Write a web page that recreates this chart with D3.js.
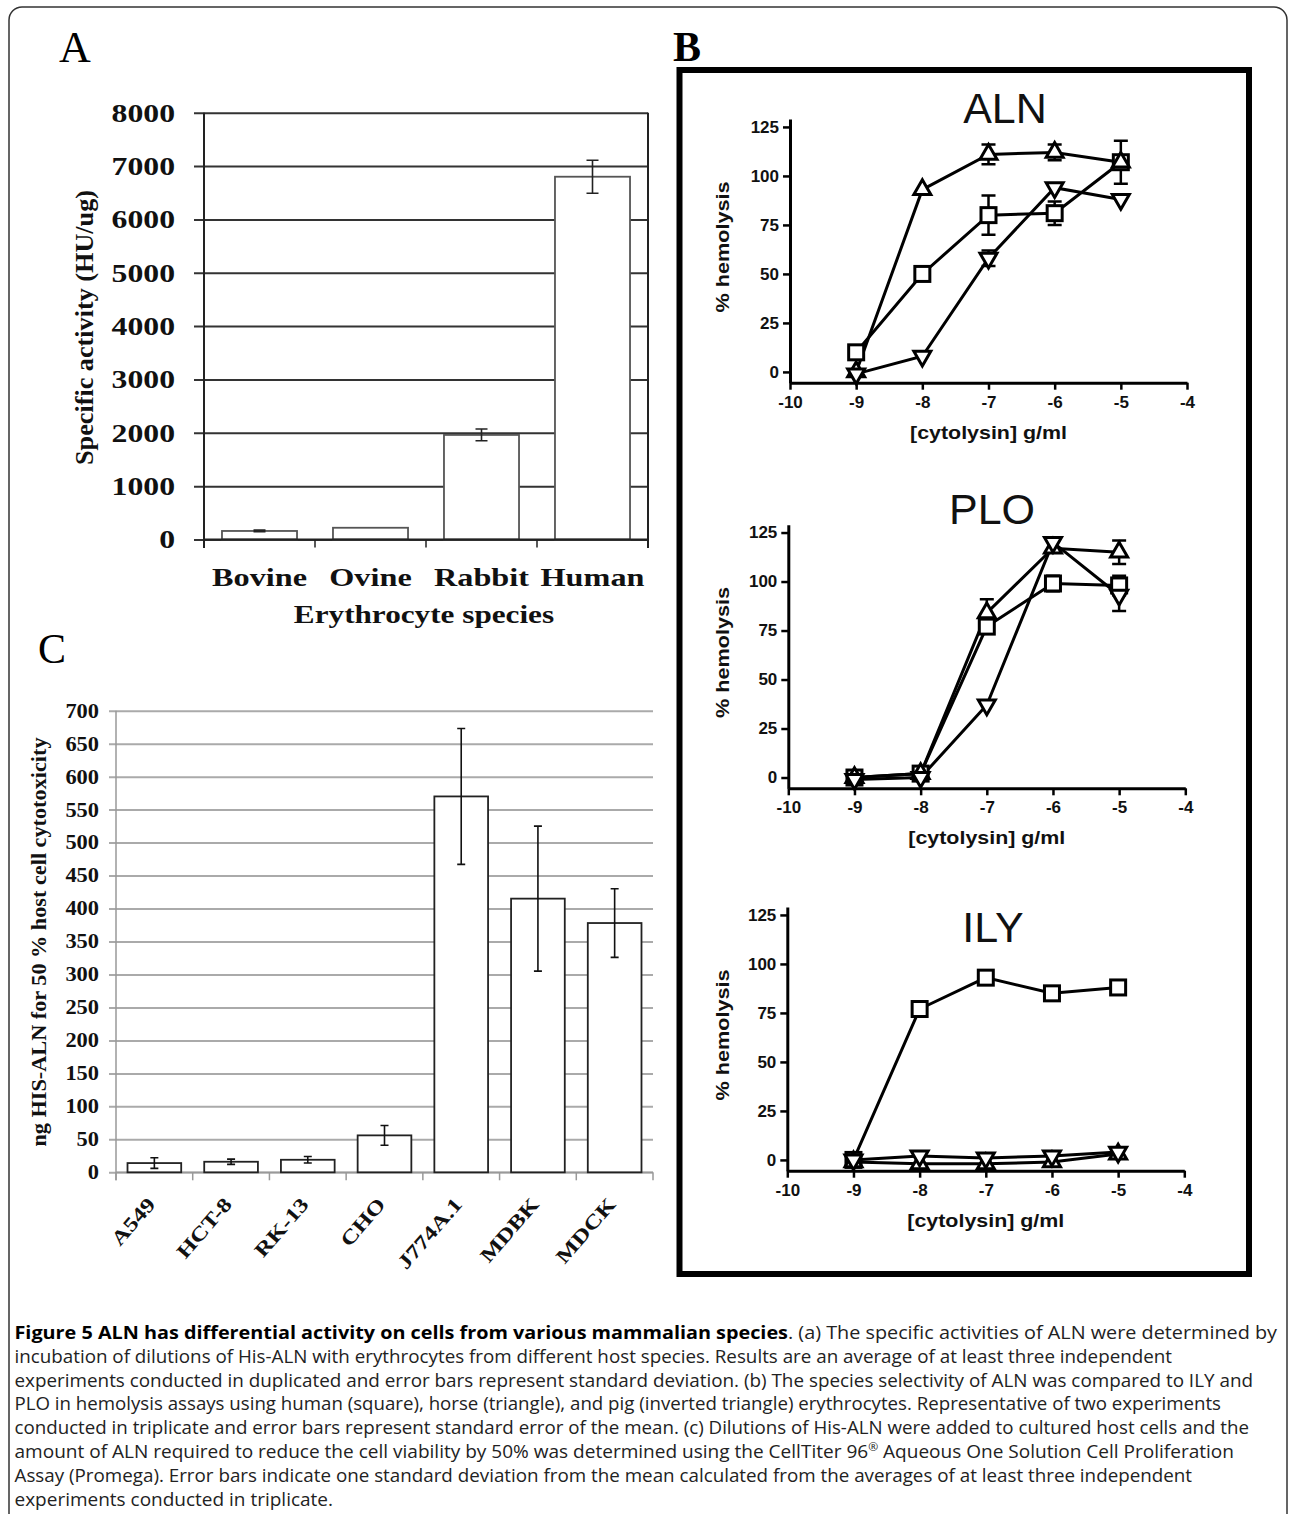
<!DOCTYPE html>
<html>
<head>
<meta charset="utf-8">
<script src="https://cdn.jsdelivr.net/npm/d3@7"></script>
<style>
  body { margin: 0; background: #fff; }
  svg { display: block; }
</style>
</head>
<body>
<div id="chart"></div>
<script>
//Datos - panel A
const speciesA = ['Bovine', 'Ovine', 'Rabbit', 'Human'];
const activityA = [160, 220, 1960, 6800];
const activityErrA = [15, 0, 110, 310];
const ticksA = [0, 1000, 2000, 3000, 4000, 5000, 6000, 7000, 8000];

//Datos - panel B (log g/ml vs % hemolysis)
const concB = [-9, -8, -7, -6, -5];
const ticksBx = [-10, -9, -8, -7, -6, -5, -4];
const ticksBy = [0, 25, 50, 75, 100, 125];

const alnHuman = [10, 50, 80, 81, 107];
const alnHumanErr = [0, 0, 10, 6, 11];
const alnHorse = [0, 93, 111, 112, 107];
const alnHorseErr = [0, 0, 5, 4, 0];
const alnPig = [-1, 8, 58, 94, 88];
const alnPigErr = [0, 0, 4, 0, 0];

const ploHuman = [0, 2, 77, 99, 98];
const ploHumanErr = [0, 0, 0, 4, 5];
const ploHorse = [0, 2, 84, 117, 115];
const ploHorseErr = [0, 0, 7, 0, 6];
const ploPig = [-1, 0, 37, 120, 93];
const ploPigErr = [0, 0, 0, 0, 8];

const ilyHuman = [0, 77, 93, 85, 88];
const ilyHorse = [-1, -2, -2, -1, 3];
const ilyPig = [0, 2, 1, 2, 4];

//Datos - panel C
const cellsC = ['A549', 'HCT-8', 'RK-13', 'CHO', 'J774A.1', 'MDBK', 'MDCK'];
const cytoC = [14, 16, 19, 56, 570, 415, 378];
const cytoErrC = [8, 4, 5, 15, 103, 110, 52];
const ticksC = [0, 50, 100, 150, 200, 250, 300, 350, 400, 450, 500, 550, 600, 650, 700];

const SERIF = '"Liberation Serif", "Times New Roman", serif';
const SANS = '"Liberation Sans", Arial, sans-serif';
const CAPTION = '"Open Sans", "Liberation Sans", sans-serif';

let svg = d3.select('#chart').append('svg')
    .attr('width', 1290)
    .attr('height', 1514);

svg.append('rect').attr('width', 1290).attr('height', 1514).attr('fill', '#fff');

//Marco exterior
svg.append('rect')
    .attr('x', 9).attr('y', 7)
    .attr('width', 1278).attr('height', 1600)
    .attr('rx', 13)
    .attr('fill', 'none').attr('stroke', '#333').attr('stroke-width', 1.5);

//estira el texto horizontalmente
function stretch(sel, k) {
    sel.each(function() {
        let w = this.getComputedTextLength();
        d3.select(this).attr('textLength', w * k).attr('lengthAdjust', 'spacingAndGlyphs');
    });
}

/////
// Panel A
/////
let gA = svg.append('g');
let xA = d3.scaleBand().domain(speciesA).range([204, 648]).paddingInner(0.324).paddingOuter(0.162);
let yA = d3.scaleLinear().domain([0, 8000]).range([539.5, 112.7]);

gA.append('text').attr('x', 59).attr('y', 62)
    .style('font-family', SERIF).style('font-size', '44px').text('A');

//rejilla + etiquetas
let yAxisA = gA.append('g')
    .attr('transform', 'translate(648,0)')
    .call(d3.axisLeft(yA).tickValues(ticksA).tickSize(454).tickPadding(19).tickFormat(d => String(d)));
yAxisA.select('.domain').remove();
yAxisA.selectAll('.tick line').attr('stroke', '#333').attr('stroke-width', 2);
yAxisA.selectAll('.tick text')
    .style('font-family', SERIF).style('font-size', '26px').style('font-weight', 'bold').attr('fill', '#111')
    .call(stretch, 1.22);

gA.append('line').attr('x1', 204).attr('x2', 204).attr('y1', 112.7).attr('y2', 548)
    .attr('stroke', '#222').attr('stroke-width', 2);
gA.append('line').attr('x1', 648).attr('x2', 648).attr('y1', 112.7).attr('y2', 548)
    .attr('stroke', '#222').attr('stroke-width', 2);

//marcas en los límites de cada categoría
let edgesA = speciesA.map(d => xA(d) - (xA.step() - xA.bandwidth()) / 2).concat([xA.range()[1]]);
gA.selectAll('.edge').data(edgesA).enter().append('line')
    .attr('x1', d => d).attr('x2', d => d).attr('y1', yA(0)).attr('y2', yA(0) + 8)
    .attr('stroke', '#222').attr('stroke-width', 1.5);

gA.selectAll('.bar').data(speciesA).enter().append('rect')
    .attr('x', d => xA(d))
    .attr('y', (d, i) => yA(activityA[i]))
    .attr('width', xA.bandwidth())
    .attr('height', (d, i) => yA(0) - yA(activityA[i]))
    .attr('fill', '#fff').attr('stroke', '#555').attr('stroke-width', 1.8);

gA.append('line').attr('x1', 204).attr('x2', 648).attr('y1', yA(0)).attr('y2', yA(0))
    .attr('stroke', '#222').attr('stroke-width', 2);

speciesA.forEach(function(d, i) {
    if (!activityErrA[i]) return;
    let cx = xA(d) + xA.bandwidth() / 2,
        t = yA(activityA[i] + activityErrA[i]),
        b = yA(activityA[i] - activityErrA[i]);
    gA.append('path')
        .attr('d', `M${cx},${t}V${b}M${cx - 6},${t}H${cx + 6}M${cx - 6},${b}H${cx + 6}`)
        .attr('stroke', '#222').attr('stroke-width', 1.6).attr('fill', 'none');
});

gA.selectAll('.xlab').data(speciesA).enter().append('text')
    .attr('x', d => xA(d) + xA.bandwidth() / 2)
    .attr('y', 586)
    .attr('text-anchor', 'middle')
    .style('font-family', SERIF).style('font-size', '26px').style('font-weight', 'bold').attr('fill', '#111')
    .text(d => d)
    .call(stretch, 1.24);

gA.append('text').attr('x', 424).attr('y', 623).attr('text-anchor', 'middle')
    .style('font-family', SERIF).style('font-size', '26px').style('font-weight', 'bold').attr('fill', '#111')
    .text('Erythrocyte species')
    .call(stretch, 1.2);

gA.append('text')
    .attr('transform', 'translate(93,327.5) rotate(-90)')
    .attr('text-anchor', 'middle')
    .style('font-family', SERIF).style('font-size', '26px').style('font-weight', 'bold').attr('fill', '#111')
    .attr('textLength', 275).attr('lengthAdjust', 'spacingAndGlyphs')
    .text('Specific activity (HU/ug)');

/////
// Panel B
/////
let gB = svg.append('g');
gB.append('text').attr('x', 673).attr('y', 61)
    .style('font-family', SERIF).style('font-size', '42px').style('font-weight', 'bold').text('B');
gB.append('rect').attr('x', 679.5).attr('y', 70).attr('width', 569.5).attr('height', 1204)
    .attr('fill', 'none').attr('stroke', '#000').attr('stroke-width', 6);

const panelsB = [
    { title: 'ALN', left: 790, bottom: 382.7, titleX: 1005, titleY: 123,
      series: [
        { shape: 'square', values: alnHuman, err: alnHumanErr },
        { shape: 'up', values: alnHorse, err: alnHorseErr },
        { shape: 'down', values: alnPig, err: alnPigErr }
      ] },
    { title: 'PLO', left: 788.3, bottom: 788.3, titleX: 992, titleY: 524,
      series: [
        { shape: 'square', values: ploHuman, err: ploHumanErr },
        { shape: 'up', values: ploHorse, err: ploHorseErr },
        { shape: 'down', values: ploPig, err: ploPigErr }
      ] },
    { title: 'ILY', left: 787.3, bottom: 1170.7, titleX: 993, titleY: 942,
      series: [
        { shape: 'square', values: ilyHuman, err: null },
        { shape: 'up', values: ilyHorse, err: null },
        { shape: 'down', values: ilyPig, err: null }
      ] }
];

panelsB.forEach(function(p) {
    let g = gB.append('g');
    let x = d3.scaleLinear().domain([-10, -4]).range([p.left, p.left + 397]);
    let y = d3.scaleLinear().domain([-5.5, 129]).range([p.bottom, p.bottom - 263.6]);

    g.append('text').attr('x', p.titleX).attr('y', p.titleY).attr('text-anchor', 'middle')
        .style('font-family', SANS).style('font-size', '43px').attr('fill', '#111').text(p.title);

    let ax = g.append('g').attr('transform', `translate(0,${p.bottom})`)
        .call(d3.axisBottom(x).tickValues(ticksBx).tickSize(7).tickSizeOuter(0).tickPadding(6).tickFormat(d => String(d)));
    let ay = g.append('g').attr('transform', `translate(${p.left},0)`)
        .call(d3.axisLeft(y).tickValues(ticksBy).tickSize(7).tickSizeOuter(0).tickPadding(4).tickFormat(d => String(d)));
    [ax, ay].forEach(function(a) {
        a.select('.domain').attr('stroke', '#000').attr('stroke-width', 3);
        a.selectAll('.tick line').attr('stroke', '#000').attr('stroke-width', 2.5);
        a.selectAll('.tick text').style('font-family', SANS).style('font-size', '17px')
            .style('font-weight', 'bold').attr('fill', '#111');
    });

    g.append('text').attr('x', x(-7)).attr('y', p.bottom + 56).attr('text-anchor', 'middle')
        .style('font-family', SANS).style('font-size', '18px').style('font-weight', 'bold').attr('fill', '#111')
        .attr('textLength', 157).attr('lengthAdjust', 'spacingAndGlyphs')
        .text('[cytolysin] g/ml');
    g.append('text').attr('transform', `translate(729,${y(0) - 125}) rotate(-90)`).attr('text-anchor', 'middle')
        .style('font-family', SANS).style('font-size', '18px').style('font-weight', 'bold').attr('fill', '#111')
        .attr('textLength', 131).attr('lengthAdjust', 'spacingAndGlyphs')
        .text('% hemolysis');

    let line = d3.line().x((d, i) => x(concB[i])).y(d => y(d));

    p.series.forEach(function(s) {
        if (s.err) {
            s.values.forEach(function(v, i) {
                if (!s.err[i]) return;
                let cx = x(concB[i]), t = y(v + s.err[i]), b = y(v - s.err[i]);
                g.append('path')
                    .attr('d', `M${cx},${t}V${b}M${cx - 7},${t}H${cx + 7}M${cx - 7},${b}H${cx + 7}`)
                    .attr('stroke', '#000').attr('stroke-width', 2.5).attr('fill', 'none');
            });
        }
        g.append('path').datum(s.values).attr('d', line)
            .attr('fill', 'none').attr('stroke', '#000').attr('stroke-width', 3);
    });

    p.series.forEach(function(s) {
        let m = g.selectAll(null).data(s.values).enter();
        if (s.shape === 'square') {
            m.append('rect')
                .attr('x', (d, i) => x(concB[i]) - 7.5).attr('y', d => y(d) - 7.5)
                .attr('width', 15).attr('height', 15)
                .attr('fill', '#fff').attr('stroke', '#000').attr('stroke-width', 3);
        } else {
            m.append('path')
                .attr('d', d3.symbol().type(d3.symbolTriangle).size(125))
                .attr('transform', (d, i) => `translate(${x(concB[i])},${y(d)})` + (s.shape === 'down' ? ' rotate(180)' : ''))
                .attr('fill', '#fff').attr('stroke', '#000').attr('stroke-width', 3);
        }
    });
});

/////
// Panel C
/////
let gC = svg.append('g');
let xC = d3.scaleBand().domain(cellsC).range([116, 653]).paddingInner(0.3).paddingOuter(0.15);
let yC = d3.scaleLinear().domain([0, 700]).range([1172.3, 710.7]);

gC.append('text').attr('x', 38).attr('y', 663)
    .style('font-family', SERIF).style('font-size', '42px').text('C');

let yAxisC = gC.append('g')
    .attr('transform', 'translate(653,0)')
    .call(d3.axisLeft(yC).tickValues(ticksC).tickSize(544).tickPadding(10).tickFormat(d => String(d)));
yAxisC.select('.domain').remove();
yAxisC.selectAll('.tick line').attr('stroke', '#aaa').attr('stroke-width', 2);
yAxisC.selectAll('.tick text')
    .style('font-family', SERIF).style('font-size', '20px').style('font-weight', 'bold').attr('fill', '#111')
    .call(stretch, 1.12);

gC.append('line').attr('x1', 116).attr('x2', 116).attr('y1', yC(700)).attr('y2', yC(0) + 8)
    .attr('stroke', '#999').attr('stroke-width', 1.5);
gC.append('line').attr('x1', 116).attr('x2', 653).attr('y1', yC(0)).attr('y2', yC(0))
    .attr('stroke', '#999').attr('stroke-width', 1.5);
let edgesC = cellsC.map(d => xC(d) - (xC.step() - xC.bandwidth()) / 2).concat([xC.range()[1]]);
gC.selectAll('.edge').data(edgesC).enter().append('line')
    .attr('x1', d => d).attr('x2', d => d).attr('y1', yC(0)).attr('y2', yC(0) + 8)
    .attr('stroke', '#999').attr('stroke-width', 1.5);

gC.selectAll('.bar').data(cellsC).enter().append('rect')
    .attr('x', d => xC(d))
    .attr('y', (d, i) => yC(cytoC[i]))
    .attr('width', xC.bandwidth())
    .attr('height', (d, i) => yC(0) - yC(cytoC[i]))
    .attr('fill', '#fff').attr('stroke', '#222').attr('stroke-width', 1.8);

cellsC.forEach(function(d, i) {
    let cx = xC(d) + xC.bandwidth() / 2,
        t = yC(cytoC[i] + cytoErrC[i]),
        b = yC(cytoC[i] - cytoErrC[i]);
    gC.append('path')
        .attr('d', `M${cx},${t}V${b}M${cx - 4},${t}H${cx + 4}M${cx - 4},${b}H${cx + 4}`)
        .attr('stroke', '#111').attr('stroke-width', 1.6).attr('fill', 'none');
});

gC.selectAll('.xlab').data(cellsC).enter().append('text')
    .attr('transform', d => `translate(${xC(d) + xC.bandwidth() / 2 + 2},1205) rotate(-49)`)
    .attr('text-anchor', 'end')
    .style('font-family', SERIF).style('font-size', '20px').style('font-weight', 'bold').attr('fill', '#111')
    .text(d => d)
    .call(stretch, 1.25);

gC.append('text')
    .attr('transform', 'translate(46,942) rotate(-90)')
    .attr('text-anchor', 'middle')
    .style('font-family', SERIF).style('font-size', '20px').style('font-weight', 'bold').attr('fill', '#111')
    .attr('textLength', 409).attr('lengthAdjust', 'spacingAndGlyphs')
    .text('ng HIS-ALN for 50 % host cell cytotoxicity');

/////
// Pie de figura
/////
const captionEnds = [1277, 1172, 1253, 1221, 1249, 1234, 1192, 333];
let cap = svg.append('g')
    .style('font-family', CAPTION).style('font-size', '17.5px').attr('fill', '#222');

function capLine(i) {
    return cap.append('text').attr('x', 14.5).attr('y', 1339 + i * 23.8)
        .attr('textLength', captionEnds[i] - 14.5).attr('lengthAdjust', 'spacingAndGlyphs');
}

let l0 = capLine(0);
l0.append('tspan').style('font-weight', 'bold').attr('fill', '#000')
    .text('Figure 5 ALN has differential activity on cells from various mammalian species');
l0.append('tspan').text('. (a) The specific activities of ALN were determined by');

capLine(1).text('incubation of dilutions of His-ALN with erythrocytes from different host species. Results are an average of at least three independent');
capLine(2).text('experiments conducted in duplicated and error bars represent standard deviation. (b) The species selectivity of ALN was compared to ILY and');
capLine(3).text('PLO in hemolysis assays using human (square), horse (triangle), and pig (inverted triangle) erythrocytes. Representative of two experiments');
capLine(4).text('conducted in triplicate and error bars represent standard error of the mean. (c) Dilutions of His-ALN were added to cultured host cells and the');

let l5 = capLine(5);
l5.append('tspan').text('amount of ALN required to reduce the cell viability by 50% was determined using the CellTiter 96');
l5.append('tspan').attr('dy', -7).style('font-size', '11px').text('®');
l5.append('tspan').attr('dy', 7).text(' Aqueous One Solution Cell Proliferation');

capLine(6).text('Assay (Promega). Error bars indicate one standard deviation from the mean calculated from the averages of at least three independent');
capLine(7).text('experiments conducted in triplicate.');
</script>
</body>
</html>
